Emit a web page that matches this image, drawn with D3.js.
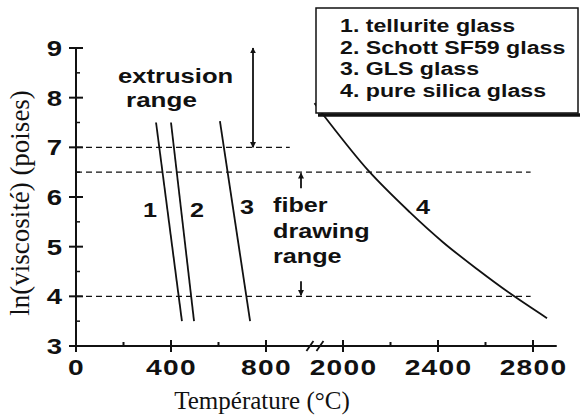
<!DOCTYPE html>
<html><head><meta charset="utf-8">
<script src="https://cdn.jsdelivr.net/npm/d3@7"></script>
<style>
html,body{margin:0;padding:0;background:#fff;}
svg{display:block;}
</style></head>
<body>
<svg id="c" width="581" height="416"></svg>
<script>
// ---- data ----
const yTicks = [3,4,5,6,7,8,9];
const yMinor = [3.5,4.5,5.5,6.5,7.5,8.5];
const xTicksLeft = [0,400,800];
const xMinorLeft = [200,600];
const xTicksRight = [2000,2400,2800];
const xMinorRight = [2200,2600];

const telluriteT = [337,446];   const telluriteV = [7.5,3.5];
const schottT    = [400,497];   const schottV    = [7.5,3.5];
const glsT       = [606,733];   const glsV       = [7.53,3.5];
const silicaT    = [1880,1924,2105,2282,2421,2564,2703,2859];
const silicaV    = [7.89,7.61,6.54,5.69,5.09,4.55,4.06,3.56];

const legendItems = ["1. tellurite glass","2. Schott SF59 glass","3. GLS glass","4. pure silica glass"];
const extrusionLimits = [7,9];
const fiberLimits = [4,6.5];

// ---- scales ----
const svg = d3.select("#c");
const y = d3.scaleLinear().domain([3,9]).range([346,48]);
const xL = d3.scaleLinear().domain([0,1000]).range([76,313.5]);
const xR = d3.scaleLinear().domain([1900,2900]).range([319.25,556.75]);
const ink = "#111";
const sans = "'Liberation Sans', Arial, sans-serif";
const serif = "'Liberation Serif', 'Times New Roman', serif";

function stext(g, str, x, yy, size, anchor, sx, ls){
  return g.append("text")
    .attr("transform", `translate(${x},${yy}) scale(${sx},1)`)
    .attr("text-anchor", anchor||"start")
    .attr("font-family", sans).attr("font-weight","bold")
    .attr("font-size", size).attr("fill", ink)
    .attr("letter-spacing", ls||0)
    .text(str);
}

// ---- dashed reference lines ----
const dash = svg.append("g").attr("stroke", ink).attr("stroke-width",1.4).attr("stroke-dasharray","6,4").attr("fill","none");
dash.append("line").attr("x1",xL(0)).attr("x2",xL(900)).attr("y1",y(7)).attr("y2",y(7));
dash.append("line").attr("x1",xL(0)).attr("x2",xR(2790)).attr("y1",y(6.5)).attr("y2",y(6.5));
dash.append("line").attr("x1",xL(0)).attr("x2",xR(2790)).attr("y1",y(4)).attr("y2",y(4));

// ---- series ----
const lineL = d3.line().x(d=>xL(d[0])).y(d=>y(d[1]));
const lineR = d3.line().x(d=>xR(d[0])).y(d=>y(d[1])).curve(d3.curveCatmullRom.alpha(0.5));
const series = [[telluriteT,telluriteV],[schottT,schottV],[glsT,glsV]];
series.forEach(([t,v])=>{
  svg.append("path").attr("d", lineL(d3.zip(t,v))).attr("fill","none").attr("stroke",ink).attr("stroke-width",1.8);
});
svg.append("path").attr("d", lineR(d3.zip(silicaT,silicaV))).attr("fill","none").attr("stroke",ink).attr("stroke-width",1.8);

// ---- axes ----
const ax = svg.append("g").attr("stroke", ink).attr("stroke-width",2);
ax.append("line").attr("x1",76).attr("x2",76).attr("y1",y(9)).attr("y2",y(3));
ax.append("line").attr("x1",76).attr("x2",xR(2900)).attr("y1",y(3)).attr("y2",y(3));
yTicks.forEach(v=>ax.append("line").attr("x1",69).attr("x2",83).attr("y1",y(v)).attr("y2",y(v)));
yMinor.forEach(v=>ax.append("line").attr("x1",76).attr("x2",80).attr("y1",y(v)).attr("y2",y(v)).attr("stroke-width",1.5));
xTicksLeft.forEach(v=>ax.append("line").attr("x1",xL(v)).attr("x2",xL(v)).attr("y1",y(3)-6).attr("y2",y(3)+6));
xTicksRight.forEach(v=>ax.append("line").attr("x1",xR(v)).attr("x2",xR(v)).attr("y1",y(3)-6).attr("y2",y(3)+6));
xMinorLeft.forEach(v=>ax.append("line").attr("x1",xL(v)).attr("x2",xL(v)).attr("y1",y(3)-4).attr("y2",y(3)));
xMinorRight.forEach(v=>ax.append("line").attr("x1",xR(v)).attr("x2",xR(v)).attr("y1",y(3)-4).attr("y2",y(3)));
// break marks
const brk = svg.append("g").attr("stroke",ink).attr("stroke-width",1.8);
[xL(985), xR(1903)].forEach(px=>{
  brk.append("line").attr("x1",px-3.5).attr("x2",px+3.5).attr("y1",y(3)+5).attr("y2",y(3)-5);
});

// tick labels
const tl = svg.append("g");
yTicks.forEach(v=>stext(tl, String(v), 62, y(v)+8, 22, "end", 1.25));
xTicksLeft.forEach(v=>stext(tl, String(v), xL(v)+0.5, 375, 22, "middle", 1.28, 1));
xTicksRight.forEach(v=>stext(tl, String(v), xR(v)+0.5, 375, 22, "middle", 1.28, 1));

// axis titles
svg.append("text").attr("transform","translate(29,203) rotate(-90)")
  .attr("text-anchor","middle").attr("font-family",serif).attr("font-size",27).attr("fill",ink)
  .text("ln(viscosité) (poises)");
svg.append("text").attr("x",262).attr("y",409)
  .attr("text-anchor","middle").attr("font-family",serif).attr("font-size",25).attr("fill",ink)
  .text("Température (°C)");

// ---- annotations ----
const an = svg.append("g");
stext(an, "extrusion", 118, 83, 21, "start", 1.22);
stext(an, "range", 126, 107, 21, "start", 1.24);
stext(an, "fiber", 273, 212, 21, "start", 1.2);
stext(an, "drawing", 273, 238, 21, "start", 1.2);
stext(an, "range", 273, 263, 21, "start", 1.2);
stext(an, "1", 150, 217, 21, "middle", 1.2);
stext(an, "2", 197, 217, 21, "middle", 1.2);
stext(an, "3", 247, 214, 21, "middle", 1.2);
stext(an, "4", 423, 214, 21, "middle", 1.2);

// arrows
const defs = svg.append("defs");
defs.append("marker").attr("id","ah").attr("viewBox","0 0 10 10").attr("refX",9).attr("refY",5)
  .attr("markerWidth",6).attr("markerHeight",8).attr("markerUnits","userSpaceOnUse").attr("orient","auto-start-reverse")
  .append("path").attr("d","M0,0 L10,5 L0,10 Z").attr("fill",ink);
const arr = svg.append("g").attr("stroke",ink).attr("stroke-width",1.8);
arr.append("line").attr("x1",253).attr("x2",253).attr("y1",y(extrusionLimits[1])).attr("y2",y(extrusionLimits[0]))
  .attr("marker-start","url(#ah)").attr("marker-end","url(#ah)");
arr.append("line").attr("x1",301).attr("x2",301).attr("y1",y(fiberLimits[1])+16).attr("y2",y(fiberLimits[1])+1)
  .attr("marker-end","url(#ah)");
arr.append("line").attr("x1",301).attr("x2",301).attr("y1",y(fiberLimits[0])-15).attr("y2",y(fiberLimits[0])-1)
  .attr("marker-end","url(#ah)");

// ---- legend ----
const lg = svg.append("g");
lg.append("line").attr("x1",318).attr("x2",580).attr("y1",115).attr("y2",115).attr("stroke",ink).attr("stroke-width",3.5);
lg.append("rect").attr("x",316).attr("y",8).attr("width",262).attr("height",105)
  .attr("fill","#fff").attr("stroke",ink).attr("stroke-width",1.5);
legendItems.forEach((s,i)=>stext(lg, s, 340, 32+i*21.7, 19, "start", 1.22));
</script>
</body></html>
